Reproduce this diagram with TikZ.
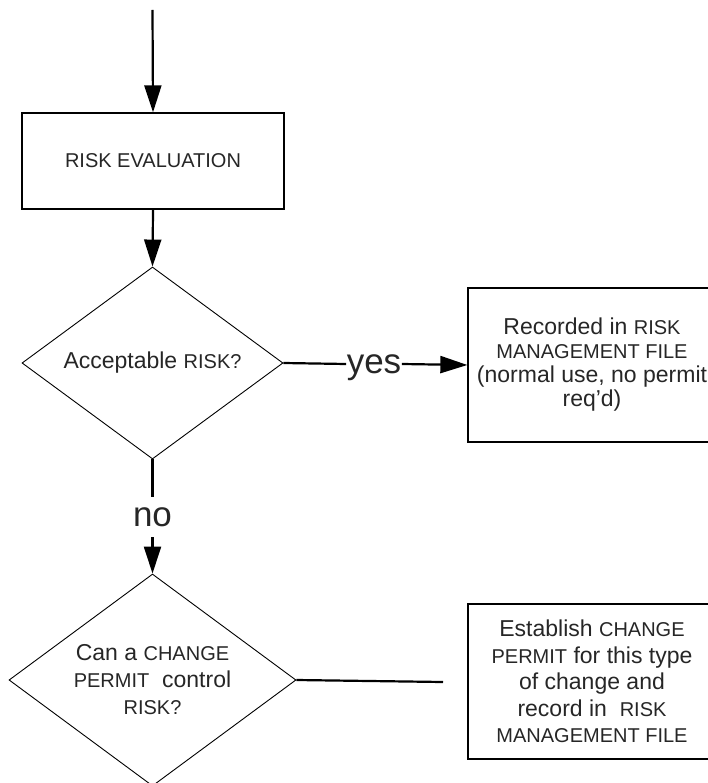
\documentclass[tikz,border=0pt]{standalone}
\usepackage{fontspec}
\setmainfont{Liberation Sans}
\usepackage{tikz}
\usetikzlibrary{calc,shapes,positioning}
\usetikzlibrary{arrows.meta}
\tikzset{>={Triangle[length=27pt,width=17pt]}}
\newcommand{\capsz}[1]{{\fontsize{20}{20}\selectfont #1}}

\begin{document}
\begin{tikzpicture}[x=1pt,y=-1pt]
      \useasboundingbox (0,0) rectangle (707,783);
      \begin{scope}
        \tikzstyle{pbox} = [draw=black, line width=1.3pt, rectangle, inner sep = 2pt, align=center, text=black!85, font=\fontsize{23}{24}\selectfont]
        \tikzstyle{dnode} = [draw=black, line width=0.9pt, diamond, inner sep = 0pt, aspect=1.36, align=center, text=black!85, font=\fontsize{23}{27}\selectfont]
        \tikzstyle{lnode} = [inner xsep = 0.5pt, inner ysep = 0pt, text height=18pt, text depth=0pt, text=black!85, font=\fontsize{35}{35}\selectfont]

        \coordinate (start) at (152.5,10);
        \node[pbox, minimum width=262pt, minimum height=96pt] (eval) at (153,161) {\capsz{RISK EVALUATION}};

        \node[dnode, minimum width=261pt, minimum height=192pt] (accept) at (152.5,363) {Acceptable \capsz{RISK?}};
        \node[lnode] (yes) at (374,364) {yes};
        \node[pbox, minimum width=248pt, minimum height=154pt] (record) at (592,365)
          {Recorded in \capsz{RISK}\\ \capsz{MANAGEMENT FILE}\\ (normal use, no permit\\ req'd)};

        \node[lnode, inner ysep = 11pt] (no) at (152.5,517) {no};
        \node[dnode, minimum width=287pt, minimum height=212pt] (permit) at (152.5,680)
          {Can a \capsz{CHANGE}\\ \capsz{PERMIT}\ \ control\\ \capsz{RISK?}};
        \coordinate (pend) at (443,682);
        \node[pbox, font=\fontsize{23}{26.5}\selectfont, minimum width=248pt, minimum height=155pt] (establish) at (592,681.5)
          {Establish \capsz{CHANGE}\\ \capsz{PERMIT} for this type\\ of change and\\ record in\ \ \capsz{RISK}\\ \capsz{MANAGEMENT FILE}};

        \path[draw, line width=2.2pt]
        (start) edge[->] (eval.north)
        (eval.south) edge[->] (accept.north)
        (accept.east) edge (yes.west)
        (yes.east) edge[->] (record.west)
        (accept.south) edge (no.north)
        (no.south) edge[->] (permit.north)
        (permit.east) edge (pend)
        ;
      \end{scope}
    \end{tikzpicture}
\end{document}
